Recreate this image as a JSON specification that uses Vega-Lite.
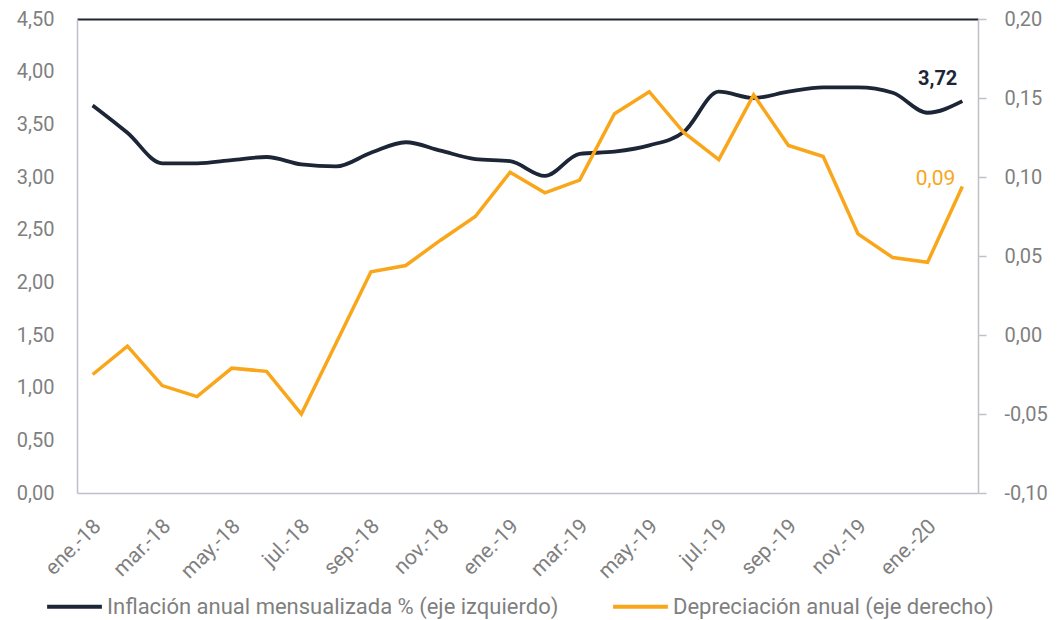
{
  "$schema": "https://vega.github.io/schema/vega-lite/v6.json",
  "width": 901,
  "height": 474,
  "autosize": "none",
  "padding": {"left": 77, "top": 19, "right": 84, "bottom": 127},
  "background": "white",
  "config": {
    "locale": {"number": {"decimal": ",", "thousands": ".", "grouping": [3], "currency": ["", " €"], "minus": "-"}},
    "view": {"stroke": null},
    "font": "Roboto"
  },
  "datasets": {
    "inflacion": [
      {"mes": "ene.-18", "valor": 3.68}, {"mes": "feb.-18", "valor": 3.42}, {"mes": "mar.-18", "valor": 3.13},
      {"mes": "abr.-18", "valor": 3.13}, {"mes": "may.-18", "valor": 3.16}, {"mes": "jun.-18", "valor": 3.19},
      {"mes": "jul.-18", "valor": 3.12}, {"mes": "ago.-18", "valor": 3.10}, {"mes": "sep.-18", "valor": 3.23},
      {"mes": "oct.-18", "valor": 3.33}, {"mes": "nov.-18", "valor": 3.25}, {"mes": "dic.-18", "valor": 3.17},
      {"mes": "ene.-19", "valor": 3.15}, {"mes": "feb.-19", "valor": 3.01}, {"mes": "mar.-19", "valor": 3.22},
      {"mes": "abr.-19", "valor": 3.24}, {"mes": "may.-19", "valor": 3.30}, {"mes": "jun.-19", "valor": 3.43},
      {"mes": "jul.-19", "valor": 3.81}, {"mes": "ago.-19", "valor": 3.75}, {"mes": "sep.-19", "valor": 3.81},
      {"mes": "oct.-19", "valor": 3.85}, {"mes": "nov.-19", "valor": 3.85}, {"mes": "dic.-19", "valor": 3.80},
      {"mes": "ene.-20", "valor": 3.61}, {"mes": "feb.-20", "valor": 3.72}
    ],
    "depreciacion": [
      {"mes": "ene.-18", "valor": -0.025}, {"mes": "feb.-18", "valor": -0.007}, {"mes": "mar.-18", "valor": -0.032},
      {"mes": "abr.-18", "valor": -0.039}, {"mes": "may.-18", "valor": -0.021}, {"mes": "jun.-18", "valor": -0.023},
      {"mes": "jul.-18", "valor": -0.050}, {"mes": "ago.-18", "valor": -0.005}, {"mes": "sep.-18", "valor": 0.040},
      {"mes": "oct.-18", "valor": 0.044}, {"mes": "nov.-18", "valor": 0.060}, {"mes": "dic.-18", "valor": 0.075},
      {"mes": "ene.-19", "valor": 0.103}, {"mes": "feb.-19", "valor": 0.090}, {"mes": "mar.-19", "valor": 0.098},
      {"mes": "abr.-19", "valor": 0.140}, {"mes": "may.-19", "valor": 0.154}, {"mes": "jun.-19", "valor": 0.128},
      {"mes": "jul.-19", "valor": 0.111}, {"mes": "ago.-19", "valor": 0.152}, {"mes": "sep.-19", "valor": 0.120},
      {"mes": "oct.-19", "valor": 0.113}, {"mes": "nov.-19", "valor": 0.064}, {"mes": "dic.-19", "valor": 0.049},
      {"mes": "ene.-20", "valor": 0.046}, {"mes": "feb.-20", "valor": 0.094}
    ]
  },
  "encoding": {
    "x": {
      "field": "mes",
      "type": "ordinal",
      "sort": null,
      "scale": {
        "type": "point",
        "padding": 0.45,
        "domain": ["ene.-18","feb.-18","mar.-18","abr.-18","may.-18","jun.-18","jul.-18","ago.-18","sep.-18","oct.-18","nov.-18","dic.-18","ene.-19","feb.-19","mar.-19","abr.-19","may.-19","jun.-19","jul.-19","ago.-19","sep.-19","oct.-19","nov.-19","dic.-19","ene.-20","feb.-20"]
      },
      "axis": {
        "title": null,
        "values": ["ene.-18","mar.-18","may.-18","jul.-18","sep.-18","nov.-18","ene.-19","mar.-19","may.-19","jul.-19","sep.-19","nov.-19","ene.-20"],
        "labelAngle": -45,
        "labelAlign": "right",
        "labelBaseline": "top",
        "ticks": false,
        "grid": false,
        "domainColor": "#c0c0c6",
        "domainWidth": 1.5,
        "labelFont": "Roboto",
        "labelFontSize": 21,
        "labelColor": "#7f7f7f",
        "labelPadding": 22,
        "labelOffset": -3
      }
    }
  },
  "layer": [
    {
      "data": {"name": "inflacion"},
      "encoding": {
        "y": {
          "field": "valor",
          "type": "quantitative",
          "scale": {"domain": [0, 4.5], "nice": false, "zero": false},
          "axis": {
            "orient": "left",
            "title": null,
            "values": [0, 0.5, 1, 1.5, 2, 2.5, 3, 3.5, 4, 4.5],
            "format": ".2f",
            "ticks": false,
            "domainColor": "#c0c0c6",
            "domainWidth": 1.5,
            "labelFont": "Roboto",
            "labelFontSize": 20,
            "labelColor": "#7f7f7f",
            "labelPadding": 23,
            "grid": true,
            "gridWidth": 2,
            "gridColor": {"condition": {"test": "datum.value >= 4.49", "value": "#1c2636"}, "value": "rgba(0,0,0,0)"}
          }
        }
      },
      "layer": [
        {
          "mark": {"type": "line", "interpolate": "monotone", "strokeWidth": 3.8},
          "encoding": {
            "color": {
              "datum": "Inflación anual mensualizada % (eje izquierdo)",
              "type": "nominal",
              "scale": {
                "domain": ["Inflación anual mensualizada % (eje izquierdo)", "Depreciación anual (eje derecho)"],
                "range": ["#1c2636", "#f9a61a"]
              },
              "legend": {
                "title": null,
                "orient": "none",
                "legendX": -32,
                "legendY": 558,
                "direction": "horizontal",
                "symbolType": "stroke",
                "symbolSize": 3000,
                "symbolStrokeWidth": 4,
                "labelFont": "Roboto",
                "labelFontSize": 22,
                "labelColor": "#7f7f7f",
                "labelLimit": 700,
                "labelOffset": 3,
                "columnPadding": 46
              }
            }
          }
        },
        {
          "transform": [{"filter": "datum.mes === 'feb.-20'"}],
          "mark": {"type": "text", "align": "right", "baseline": "alphabetic", "dx": -5, "dy": -16, "font": "Roboto", "fontSize": 20, "fontWeight": "bold", "color": "#1c2636"},
          "encoding": {"text": {"field": "valor", "type": "quantitative", "format": ".2f"}}
        }
      ]
    },
    {
      "data": {"name": "depreciacion"},
      "encoding": {
        "y": {
          "field": "valor",
          "type": "quantitative",
          "scale": {"domain": [-0.1, 0.2], "nice": false, "zero": false},
          "axis": {
            "orient": "right",
            "title": null,
            "values": [-0.1, -0.05, 0, 0.05, 0.1, 0.15, 0.2],
            "format": ".2f",
            "ticks": true,
            "tickSize": 8,
            "tickColor": "#c0c0c6",
            "tickWidth": 1.5,
            "domainColor": "#c0c0c6",
            "domainWidth": 1.5,
            "labelFont": "Roboto",
            "labelFontSize": 20,
            "labelColor": "#7f7f7f",
            "labelPadding": 18,
            "grid": false
          }
        }
      },
      "layer": [
        {
          "mark": {"type": "line", "interpolate": "linear", "strokeWidth": 3.5},
          "encoding": {
            "color": {"datum": "Depreciación anual (eje derecho)", "type": "nominal"}
          }
        },
        {
          "transform": [{"filter": "datum.mes === 'feb.-20'"}],
          "mark": {"type": "text", "align": "right", "baseline": "alphabetic", "dx": -7, "dy": -1, "font": "Roboto", "fontSize": 21, "color": "#f9a61a"},
          "encoding": {"text": {"field": "valor", "type": "quantitative", "format": ".2f"}}
        }
      ]
    }
  ],
  "resolve": {"scale": {"y": "independent"}}
}
